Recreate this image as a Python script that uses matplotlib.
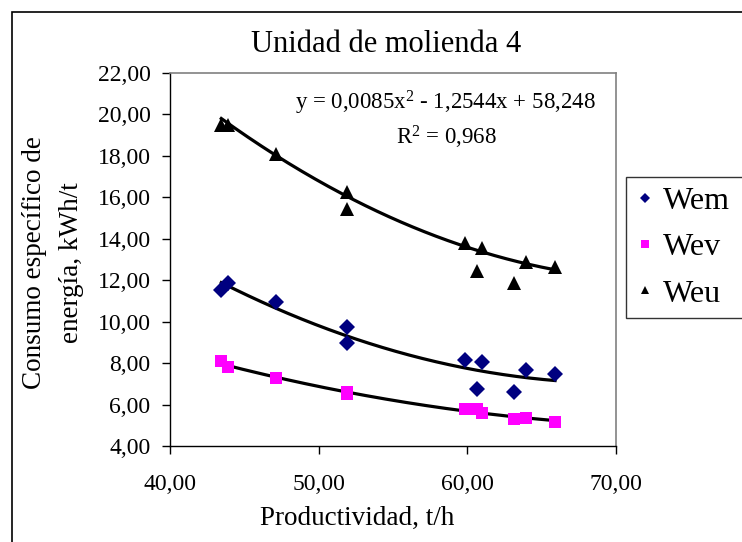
import numpy as np
import matplotlib
matplotlib.use("Agg")
import matplotlib.pyplot as plt
from matplotlib.patches import Rectangle
from matplotlib.lines import Line2D

plt.rcParams['font.family'] = ['Liberation Serif', 'DejaVu Serif']
plt.rcParams['mathtext.fontset'] = 'custom'
plt.rcParams['mathtext.rm'] = 'Liberation Serif'
plt.rcParams['mathtext.it'] = 'Liberation Serif:italic'

title = "Unidad de molienda 4"
xlabel = "Productividad, t/h"
ylabel = "Consumo específico de\nenergía, kWh/t"
equation = "y = 0,0085x$^{\\mathrm{2}}$ - 1,2544x + 58,248"
r2_text = "R$^{\\mathrm{2}}$ = 0,968"

productividad = [43.45, 43.9, 47.1, 51.9, 51.9, 59.85, 60.65, 61.0, 63.15, 63.95, 65.9]
wem = [11.52, 11.84, 10.96, 9.75, 8.95, 8.15, 6.73, 8.04, 6.62, 7.67, 7.47]
wev = [8.10, 7.80, 7.27, 6.58, 6.50, 5.77, 5.77, 5.61, 5.29, 5.37, 5.17]
weu = [19.48, 19.48, 18.08, 16.26, 15.41, 13.80, 12.45, 13.53, 11.88, 12.89, 12.62]
# printed trendline coefficients for Weu (x^2, x, 1)
weu_coef = [0.0085, -1.2544, 58.248]

xticks = [40, 50, 60, 70]
yticks = [4, 6, 8, 10, 12, 14, 16, 18, 20, 22]

W, H = 742, 542
fig = plt.figure(figsize=(W / 100, H / 100), dpi=100)
fig.patch.set_facecolor("white")

# outer chart border
fig.add_artist(Rectangle((12 / W, -0.2), 2, 1.2 - 12 / H, transform=fig.transFigure,
                         fill=False, edgecolor="black", linewidth=1.2))

left, right, top, bottom = 170, 616, 72.7, 446
ax = fig.add_axes([left / W, 1 - bottom / H, (right - left) / W, (bottom - top) / H])

series = [
    ("Wem", wem, "D", "#000080", 8.0, 4.8, None),
    ("Wev", wev, "s", "#FF00FF", 8.8, 5.2, None),
    ("Weu", weu, "^", "black", 10.0, 6.4, weu_coef),
]

x = np.array(productividad)
for name, vals, mk, col, ms, lms, coef in series:
    y = np.array(vals)
    if coef is None:
        coef = np.polyfit(x, y, 2)
    xs = np.linspace(x.min(), x.max(), 200)
    ax.plot(xs, np.polyval(coef, xs), color="black", lw=2.3, zorder=2)
    ax.plot(x, y, linestyle="none", marker=mk, color=col, markersize=ms,
            markeredgewidth=0, zorder=3)

ax.set_xlim(40, 70)
ax.set_ylim(4, 22)
ax.set_xticks(xticks)
ax.set_yticks(yticks)
ax.set_xticklabels([f"{v:.2f}".replace(".", ",") for v in xticks], fontsize=17)
ax.set_yticklabels([f"{v:.2f}".replace(".", ",") for v in yticks], fontsize=17)
ax.tick_params(axis="y", direction="out", length=6, width=1, pad=8)
ax.tick_params(axis="x", direction="out", length=6, width=1, pad=14)

for s in ("top", "right"):
    ax.spines[s].set_color("#808080")
    ax.spines[s].set_linewidth(1.2)
for s in ("left", "bottom"):
    ax.spines[s].set_color("black")
    ax.spines[s].set_linewidth(1.0)

fig.text(386 / W, 1 - 45 / H, title, ha="center", va="center", fontsize=22)
fig.text(357 / W, 1 - 518 / H, xlabel, ha="center", va="center", fontsize=19.5)
fig.text(53 / W, 1 - 263 / H, ylabel, ha="center", va="center", fontsize=19.5,
         rotation=90, linespacing=1.65, multialignment="center")

fig.text(445 / W, 1 - 103 / H, equation, ha="center", va="center", fontsize=16.5)
fig.text(447 / W, 1 - 137 / H, r2_text, ha="center", va="center", fontsize=16.5)

handles = [Line2D([], [], linestyle="none", marker=mk, color=col, markersize=lms,
                  markeredgewidth=0) for _, _, mk, col, _, lms, _ in series]
leg = fig.legend(handles, [s[0] for s in series], loc="upper left",
                 bbox_to_anchor=(626 / W, 1 - 177 / H, 0.3, 0.0), mode="expand",
                 frameon=True, fancybox=False,
                 fontsize=23, handlelength=0.6, handletextpad=0.25, borderpad=0.3,
                 labelspacing=0.53, borderaxespad=0)
leg.get_frame().set_edgecolor("black")
leg.get_frame().set_linewidth(1.0)

fig.savefig("out.png", dpi=100, facecolor="white")
